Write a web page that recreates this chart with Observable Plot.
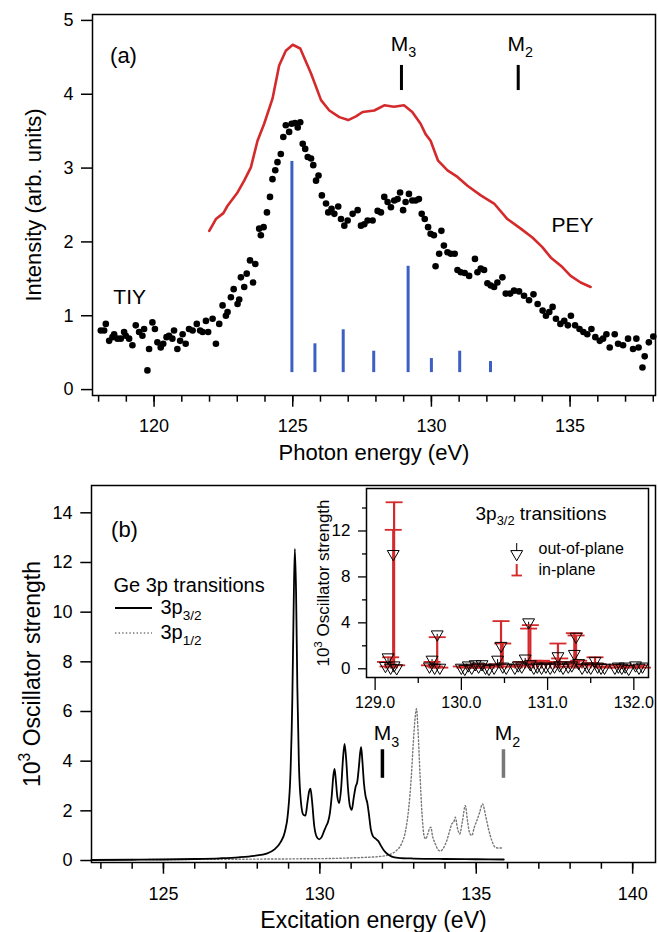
<!DOCTYPE html>
<html><head><meta charset="utf-8">
<script src="https://cdn.jsdelivr.net/npm/d3@7"></script>
<script src="https://cdn.jsdelivr.net/npm/@observablehq/plot@0.6"></script>
<style>
body{margin:0;background:#fff;}
#wrap{position:relative;width:658px;height:932px;overflow:hidden;}
#wrap svg{position:absolute;overflow:visible;}
</style></head><body><div id="wrap"></div>
<script>
// ---------------- Panel (a) data ----------------
const tiyEnergy = [118.08,118.20,118.26,118.38,118.50,118.56,118.68,118.80,118.92,118.98,119.10,119.22,119.34,119.46,119.58,119.64,119.76,119.82,119.94,120.03,120.12,120.24,120.33,120.45,120.54,120.66,120.72,120.84,120.94,121.03,121.14,121.26,121.39,121.54,121.66,121.75,121.87,121.95,122.11,122.23,122.35,122.47,122.59,122.65,122.77,122.87,123.01,123.07,123.13,123.25,123.34,123.46,123.57,123.65,123.79,123.85,123.95,124.07,124.18,124.27,124.37,124.45,124.57,124.66,124.75,124.87,124.96,125.08,125.18,125.27,125.36,125.45,125.54,125.66,125.74,125.84,125.93,126.05,126.20,126.28,126.40,126.50,126.64,126.74,126.86,126.98,127.16,127.34,127.46,127.58,127.70,127.88,128.06,128.18,128.30,128.42,128.54,128.66,128.78,128.87,128.98,129.07,129.19,129.31,129.43,129.55,129.65,129.76,129.88,129.97,130.09,130.15,130.28,130.36,130.45,130.58,130.70,130.84,130.94,131.06,131.20,131.36,131.57,131.66,131.78,131.90,132.02,132.14,132.26,132.38,132.56,132.68,132.84,132.98,133.16,133.34,133.52,133.68,133.83,134.01,134.13,134.25,134.37,134.49,134.65,134.79,134.92,135.03,135.18,135.34,135.48,135.62,135.77,135.91,136.07,136.19,136.31,136.43,136.61,136.73,136.91,137.09,137.27,137.39,137.47,137.61,137.69,137.84,138.00];
const tiyIntensity = [0.80,0.80,0.89,0.66,0.71,0.75,0.69,0.69,0.78,0.73,0.69,0.60,0.87,0.78,0.73,0.82,0.26,0.55,0.91,0.82,0.64,0.57,0.62,0.71,0.73,0.69,0.80,0.55,0.66,0.75,0.62,0.82,0.80,0.89,0.80,0.78,0.93,0.78,0.96,0.62,0.89,1.14,1.00,1.05,1.25,1.36,1.16,1.22,1.52,1.39,1.57,1.75,1.45,1.70,2.18,2.09,2.20,2.40,2.61,2.85,2.97,3.08,3.19,3.42,3.58,3.49,3.60,3.61,3.55,3.62,3.33,3.26,3.15,3.13,3.04,2.83,2.90,2.63,2.52,2.40,2.45,2.38,2.48,2.31,2.22,2.29,2.38,2.43,2.22,2.24,2.29,2.29,2.42,2.40,2.61,2.54,2.47,2.56,2.58,2.67,2.43,2.54,2.65,2.56,2.56,2.58,2.38,2.31,2.20,2.11,2.09,1.67,1.84,2.15,1.95,1.86,1.84,1.84,1.62,1.59,1.58,1.54,1.77,1.59,1.64,1.62,1.44,1.41,1.39,1.45,1.52,1.30,1.30,1.34,1.33,1.27,1.21,1.29,1.16,1.07,1.00,1.05,1.12,0.96,0.89,0.93,0.87,1.00,0.87,0.82,0.78,0.75,0.82,0.71,0.66,0.69,0.75,0.57,0.75,0.62,0.60,0.69,0.55,0.69,0.57,0.30,0.45,0.64,0.72];

const peyEnergy = [121.99,122.23,122.50,122.65,123.01,123.25,123.49,123.73,123.97,124.27,124.51,124.75,125.00,125.27,125.66,126.02,126.32,126.68,127.00,127.28,127.52,127.94,128.30,128.65,129.01,129.31,129.61,129.79,129.97,130.24,130.58,130.94,131.30,131.78,132.26,132.74,133.22,133.64,134.00,134.30,134.72,135.02,135.38,135.74];
const peyIntensity = [2.15,2.31,2.39,2.49,2.67,2.83,3.01,3.37,3.60,3.94,4.39,4.59,4.67,4.62,4.28,3.92,3.78,3.69,3.65,3.70,3.76,3.78,3.85,3.83,3.85,3.76,3.60,3.46,3.37,3.10,2.97,2.88,2.76,2.63,2.52,2.31,2.18,2.06,1.93,1.79,1.66,1.54,1.45,1.39];

const stickEnergy = [124.97,125.80,126.82,127.92,129.16,130.00,131.02,132.13];
const stickStrength = [3.09,0.62,0.81,0.52,1.67,0.42,0.52,0.38];
const stickBase = 0.23;

const edgeLabels = ["M_{3}","M_{2}"];
const edgeEnergyA = [128.92,133.13];
const edgeEnergyB = [132.00,135.87];

const aYTicks = [0,1,2,3,4,5];
const aXMajor = [120,125,130,135];
const aXMinor = [118,119,120,121,122,123,124,125,126,127,128,129,130,131,132,133,134,135,136,137,138];

// ---------------- Panel (b) data ----------------
const p32Energy = [122.7,124,125,126,126.8,127.4,127.9,128.3,128.55,128.75,128.88,128.98,129.06,129.12,129.16,129.2,129.24,129.28,129.33,129.4,129.47,129.54,129.6,129.66,129.7,129.75,129.82,129.9,129.98,130.06,130.14,130.2,130.26,130.32,130.38,130.43,130.47,130.51,130.56,130.62,130.68,130.74,130.79,130.84,130.9,130.96,131.02,131.08,131.14,131.2,131.25,131.29,131.32,131.36,131.41,131.46,131.52,131.57,131.63,131.7,131.78,131.87,131.96,132.05,132.15,132.3,132.5,133,134,135,135.88];
const p32Strength = [0.02,0.03,0.04,0.06,0.09,0.13,0.19,0.28,0.45,0.75,1.15,1.9,3.5,6.5,10.0,12.55,10.8,7.0,3.9,2.3,1.85,1.81,2.3,2.8,2.89,2.4,1.4,0.95,0.85,0.95,1.2,1.38,1.55,1.9,2.6,3.4,3.69,3.25,2.55,2.31,2.9,4.1,4.7,4.1,2.9,2.2,2.04,2.5,2.95,3.2,3.8,4.35,4.56,4.0,3.1,2.6,2.3,1.85,1.25,0.97,0.88,0.78,0.58,0.4,0.27,0.16,0.11,0.08,0.06,0.05,0.04];

const p12Energy = [122.7,125,127,128.5,129.5,130.3,130.9,131.5,131.9,132.25,132.45,132.62,132.74,132.84,132.92,132.99,133.05,133.09,133.14,133.2,133.27,133.33,133.38,133.45,133.51,133.55,133.6,133.69,133.77,133.85,133.95,134.06,134.15,134.22,134.28,134.33,134.4,134.47,134.56,134.65,134.72,134.79,134.86,134.94,135.02,135.1,135.2,135.3,135.39,135.5,135.6,135.72,135.87];
const p12Strength = [0.03,0.04,0.05,0.06,0.07,0.08,0.1,0.13,0.16,0.25,0.4,0.7,1.2,2.1,3.3,4.8,5.8,6.11,5.2,3.5,1.8,1.0,0.87,1.07,1.3,1.34,1.0,0.67,0.45,0.38,0.5,0.81,1.2,1.48,1.55,1.74,1.3,1.07,1.6,2.21,1.6,1.1,1.01,1.35,1.61,1.9,2.28,1.8,1.28,0.8,0.54,0.5,0.51];

const bYTicks = [0,2,4,6,8,10,12,14];
const bXMajor = [125,130,135,140];
const bXMinor = [123,124,125,126,127,128,129,130,131,132,133,134,135,136,137,138,139,140];

// ---------------- Inset data (3p3/2 transitions) ----------------
const insEnergy = [129.12,129.15,129.18,129.21,129.22,129.25,129.63,129.66,129.69,129.72,129.75,130.00,130.04,130.08,130.12,130.16,130.20,130.24,130.28,130.32,130.38,130.42,130.46,130.48,130.52,130.62,130.66,130.70,130.74,130.78,130.80,130.84,130.88,130.93,130.98,131.03,131.08,131.12,131.14,131.18,131.24,131.28,131.31,131.33,131.36,131.40,131.46,131.50,131.55,131.58,131.62,131.66,131.78,131.82,131.86,131.90,131.94,132.02,132.06,132.10];
const insOut = [0.25,1.0,0.1,10.0,0.3,0.05,0.2,0.8,0.1,3.0,0.1,0.1,0.0,0.3,0.1,0.4,0.2,0.4,0.1,0.0,0.1,0.8,2.0,0.2,0.1,0.1,0.3,0.2,0.9,4.05,0.4,0.1,0.2,0.1,0.2,0.1,0.2,1.1,0.3,0.1,0.2,0.3,1.3,2.8,0.5,0.1,0.2,0.1,0.7,0.2,0.1,0.1,0.1,0.2,0.1,0.2,0.0,0.3,0.1,0.2];
const insIn = [0.6,0.2,1.0,12.1,14.5,0.3,0.3,0.6,0.2,2.75,0.1,0.2,0.1,0.2,0.3,0.1,0.4,0.2,0.1,0.2,0.3,0.4,4.15,2.2,0.2,0.2,0.3,0.6,0.3,3.5,3.8,0.7,0.6,0.7,0.5,0.4,0.6,2.2,0.9,0.2,0.4,0.6,3.1,2.9,0.7,0.4,0.3,0.5,1.0,0.4,0.2,0.1,0.3,0.1,0.3,0.2,0.1,0.2,0.3,0.1];
const insYMajor = [0,4,8,12];
const insYMinor = [2,6,10,14];
const insXMajor = [129,130,131,132];
const insXMinor = [129.5,130.5,131.5];

// ---------------- Build ----------------
const FONT = '"Liberation Sans", Arial, Helvetica, sans-serif';
const RED = "#d42a2c", BLUE = "#3d5fc4", GRAY = "#777";
const baseStyle = {fontFamily: FONT, fontSize: "18px", background: "transparent", color: "black", overflow: "visible"};

const tiy = tiyEnergy.map((e, i) => ({e, v: tiyIntensity[i]}));
const pey = peyEnergy.map((e, i) => ({e, v: peyIntensity[i]}));
const sticks = stickEnergy.map((e, i) => ({e, v: stickStrength[i]}));
const edgesA = edgeLabels.map((l, i) => ({label: l, e: edgeEnergyA[i]}));
const edgesB = edgeLabels.map((l, i) => ({label: l, e: edgeEnergyB[i], c: i === 0 ? "black" : GRAY}));
const p32 = p32Energy.map((e, i) => ({e, v: p32Strength[i]}));
const p12 = p12Energy.map((e, i) => ({e, v: p12Strength[i]}));
const ins = insEnergy.map((e, i) => ({e, o: insOut[i], p: insIn[i]}));
const blank = () => "";
const intFmt = d => String(d);
const M = {lineAnchor: "middle"};

const capSymbol = {draw(ctx, size) { const w = Math.sqrt(size / Math.PI); ctx.moveTo(-w, 0); ctx.lineTo(w, 0); }};

const plotA = Plot.plot({
  width: 658, height: 470, marginLeft: 92, marginRight: 3, marginTop: 14, marginBottom: 75,
  style: baseStyle,
  x: {domain: [117.78, 138.08]},
  y: {domain: [-0.08, 5.08]},
  marks: [
    Plot.ruleX(sticks, {x: "e", y1: stickBase, y2: "v", stroke: BLUE, strokeWidth: 3}),
    Plot.line(pey, {x: "e", y: "v", stroke: RED, strokeWidth: 2.6}),
    Plot.dot(tiy, {x: "e", y: "v", r: 3.3, fill: "black", stroke: "none"}),
    Plot.ruleX(edgesA, {x: "e", y1: 4.05, y2: 4.39, stroke: "black", strokeWidth: 3}),
    Plot.text(edgesA, {x: "e", y: 4.68, text: "label", fontSize: 21, dx: 2, ...M}),
    Plot.text(["TIY"], {x: 119.12, y: 1.25, fontSize: 21, ...M}),
    Plot.text(["PEY"], {x: 135.09, y: 2.22, fontSize: 21, ...M}),
    Plot.text(["(a)"], {frameAnchor: "top-left", dx: 31, dy: 41, fontSize: 22, textAnchor: "middle", ...M}),
    Plot.frame({stroke: "black", strokeWidth: 1.5}),
    Plot.axisY({ticks: aYTicks, tickSize: 11, tickPadding: 8, tickFormat: intFmt, label: null, fontSize: 18, strokeWidth: 1.5}),
    Plot.axisX({ticks: aXMinor, tickSize: 6.7, tickFormat: blank, label: null, strokeWidth: 1.5}),
    Plot.axisX({ticks: aXMajor, tickSize: 11.7, tickPadding: 12, tickFormat: intFmt, label: null, fontSize: 18, strokeWidth: 1.5}),
    Plot.text(["Photon energy (eV)"], {frameAnchor: "bottom", dy: 57, fontSize: 22, textAnchor: "middle", ...M}),
    Plot.text(["Intensity (arb. units)"], {frameAnchor: "left", dx: -59, rotate: -90, fontSize: 22, textAnchor: "middle", ...M})
  ]
});

const plotB = Plot.plot({
  width: 658, height: 462, marginLeft: 91, marginRight: 3, marginTop: 15, marginBottom: 70,
  style: baseStyle,
  x: {domain: [122.7, 140.73]},
  y: {domain: [-0.08, 15.1]},
  marks: [
    Plot.line(p12, {x: "e", y: "v", stroke: GRAY, strokeWidth: 1.4, strokeDasharray: "1.4,2.2", curve: "monotone-x"}),
    Plot.line(p32, {x: "e", y: "v", stroke: "black", strokeWidth: 1.8, curve: "monotone-x"}),
    Plot.ruleX(edgesB, {x: "e", y1: 3.31, y2: 4.46, stroke: "c", strokeWidth: 3.5}),
    Plot.text(edgesB, {x: "e", y: 5.11, text: "label", fontSize: 21, dx: 4, ...M}),
    Plot.text(["(b)"], {frameAnchor: "top-left", dx: 33, dy: 44, fontSize: 22, textAnchor: "middle", ...M}),
    Plot.text(["Ge 3p transitions"], {frameAnchor: "top-left", dx: 22, dy: 100, fontSize: 20, textAnchor: "start", ...M}),
    Plot.text(["3p_{3/2}"], {frameAnchor: "top-left", dx: 69, dy: 122, fontSize: 20, textAnchor: "start", ...M}),
    Plot.text(["3p_{1/2}"], {frameAnchor: "top-left", dx: 69, dy: 147, fontSize: 20, textAnchor: "start", ...M}),
    Plot.frame({stroke: "black", strokeWidth: 1.5}),
    Plot.axisY({ticks: bYTicks, tickSize: 10.7, tickPadding: 8.3, tickFormat: intFmt, label: null, fontSize: 18, strokeWidth: 1.5}),
    Plot.axisX({ticks: bXMinor, tickSize: 6.7, tickFormat: blank, label: null, strokeWidth: 1.5}),
    Plot.axisX({ticks: bXMajor, tickSize: 11.7, tickPadding: 13, tickFormat: intFmt, label: null, fontSize: 18, strokeWidth: 1.5}),
    Plot.text(["Excitation energy (eV)"], {frameAnchor: "bottom", dy: 58, fontSize: 23, textAnchor: "middle", ...M}),
    Plot.text(["10^{3} Oscillator strength"], {frameAnchor: "left", dx: -59, rotate: -90, fontSize: 23, textAnchor: "middle", ...M})
  ]
});

const plotI = Plot.plot({
  width: 358, height: 245, marginLeft: 66, marginRight: 10, marginTop: 8, marginBottom: 48,
  style: baseStyle,
  x: {domain: [128.9, 132.17]},
  y: {domain: [-0.76, 15.7]},
  marks: [
    Plot.frame({fill: "white", stroke: "none"}),
    Plot.ruleX(ins, {x: "e", y1: 0, y2: "o", stroke: "black", strokeWidth: 1}),
    Plot.ruleX(ins, {x: "e", y1: 0, y2: "p", stroke: RED, strokeWidth: 2.2}),
    Plot.dot(ins, {x: "e", y: "p", symbol: capSymbol, r: 8.5, stroke: RED, strokeWidth: 1.8, fill: "none"}),
    Plot.dot(ins, {x: "e", y: "o", symbol: "triangle", rotate: 180, r: 4.4, stroke: "black", strokeWidth: 1, fill: "none"}),
    Plot.frame({stroke: "black", strokeWidth: 1.5}),
    Plot.axisY({ticks: insYMajor, tickSize: 8, tickPadding: 8, tickFormat: intFmt, label: null, fontSize: 17, strokeWidth: 1.3}),
    Plot.axisY({ticks: insYMinor, tickSize: 4, tickFormat: blank, label: null, strokeWidth: 1.3}),
    Plot.axisX({ticks: insXMajor, tickSize: 13, tickPadding: 6, tickFormat: d3.format(".1f"), label: null, fontSize: 16, strokeWidth: 1.3}),
    Plot.axisX({ticks: insXMinor, tickSize: 6, tickFormat: blank, label: null, strokeWidth: 1.3}),
    Plot.text(["10^{3} Oscillator strength"], {frameAnchor: "left", dx: -43, rotate: -90, fontSize: 17, textAnchor: "middle", ...M}),
    Plot.text(["3p_{3/2} transitions"], {frameAnchor: "top-left", dx: 109, dy: 25, fontSize: 19, textAnchor: "start", ...M}),
    Plot.text(["out-of-plane"], {frameAnchor: "top-left", dx: 172, dy: 60, fontSize: 16, textAnchor: "start", ...M}),
    Plot.text(["in-plane"], {frameAnchor: "top-left", dx: 172, dy: 81, fontSize: 16, textAnchor: "start", ...M})
  ]
});

const wrap = document.getElementById("wrap");
function place(svg, left, top) { svg.style.left = left + "px"; svg.style.top = top + "px"; wrap.appendChild(svg); }
place(plotA, 0, 0);
place(plotB, 0, 470);
place(plotI, 300, 480);

// remove empty tick-label texts of the minor-tick axes
wrap.querySelectorAll("text").forEach(t => { if (!t.textContent.trim()) t.remove(); });

// legend samples (not data)
const sb = d3.select(plotB);
sb.append("line").attr("x1", 115).attr("x2", 152).attr("y1", 138).attr("y2", 138).attr("stroke", "black").attr("stroke-width", 1.8);
sb.append("line").attr("x1", 115).attr("x2", 152).attr("y1", 163).attr("y2", 163).attr("stroke", GRAY).attr("stroke-width", 1.4).attr("stroke-dasharray", "1.4,2.2");
const si = d3.select(plotI);
si.append("line").attr("x1", 216.7).attr("x2", 216.7).attr("y1", 63).attr("y2", 71).attr("stroke", "black").attr("stroke-width", 1);
si.append("path").attr("d", d3.symbol(d3.symbolTriangle, 4.4 * 4.4 * Math.PI)()).attr("transform", "translate(216.7,74) rotate(180)").attr("fill", "none").attr("stroke", "black");
si.append("line").attr("x1", 216.7).attr("x2", 216.7).attr("y1", 84).attr("y2", 95.5).attr("stroke", RED).attr("stroke-width", 2);
si.append("line").attr("x1", 211.5).attr("x2", 222).attr("y1", 95.5).attr("y2", 95.5).attr("stroke", RED).attr("stroke-width", 1.8);

// sub/superscripts
function richify(root) {
  root.querySelectorAll("text").forEach(t => {
    const s = t.textContent;
    if (!/[_^]\{/.test(s)) return;
    const fs = parseFloat(getComputedStyle(t).fontSize) || 18;
    const parts = s.split(/([_^]\{[^}]*\})/).filter(p => p.length);
    while (t.firstChild) t.removeChild(t.firstChild);
    let cur = 0;
    for (const p of parts) {
      const ts = document.createElementNS("http://www.w3.org/2000/svg", "tspan");
      let off = 0, txt = p, small = false;
      if (p.startsWith("_{")) { off = 0.3 * fs; txt = p.slice(2, -1); small = true; }
      else if (p.startsWith("^{")) { off = -0.42 * fs; txt = p.slice(2, -1); small = true; }
      const d = off - cur; cur = off;
      if (d) ts.setAttribute("dy", d.toFixed(2));
      if (small) ts.setAttribute("font-size", (0.68 * fs).toFixed(1));
      ts.textContent = txt;
      t.appendChild(ts);
    }
  });
}
richify(wrap);
</script></body></html>
